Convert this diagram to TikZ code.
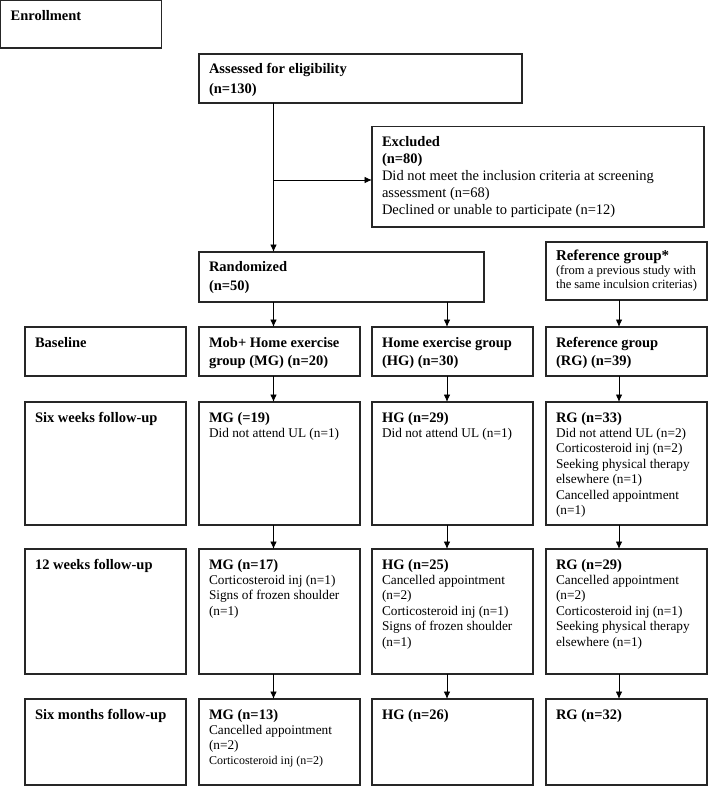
\documentclass[tikz,border=0pt]{standalone}
\usepackage{fontspec}
\setmainfont{Liberation Serif}
\usetikzlibrary{arrows.meta}
\newcommand{\txline}[3]{{\fontsize{#1}{#2}\selectfont #3\par}}
\newcommand{\cellbox}[3]{\parbox[t][#2][t]{#1}{\raggedright #3}}
\newcommand{\hdfirst}[2][20]{\txline{14.5}{14.5}{\bfseries\rule{0pt}{#1pt}#2}}
\newcommand{\bdline}[2]{\txline{14.5}{#1}{\bfseries #2}}
\newcommand{\rgline}[1]{\txline{13.3}{15.4}{#1}}
\tikzset{
  box/.style={draw=black!85, line width=1.2pt, anchor=north west, inner xsep=10pt, inner ysep=0pt, outer sep=0pt},
  arr/.style={draw=black, line width=0.9pt, -{Latex[length=7.5pt,width=6.5pt]}}
}
\begin{document}
\begin{tikzpicture}[x=1pt,y=-1pt]
\useasboundingbox (0,0) rectangle (708,786);
% top part
\node[box] (enroll) at (0.6,0.6) {\cellbox{141pt}{47.4pt}{\hdfirst{Enrollment}}};
\node[box] (assess) at (199,54) {\cellbox{303pt}{49pt}{\hdfirst[19.5]{Assessed for eligibility}\bdline{20.5}{(n=130)}}};
\node[box] (excl) at (372,126.5) {\cellbox{312pt}{100.5pt}{\hdfirst{Excluded}\bdline{16.8}{(n=80)}%
  \txline{14.5}{17.2}{Did not meet the inclusion criteria at screening}%
  \txline{14.5}{17.2}{assessment (n=68)}%
  \txline{14.5}{17.2}{Declined or unable to participate (n=12)}}};
\node[box] (rand) at (199,252) {\cellbox{265pt}{50pt}{\hdfirst[19.4]{Randomized}\bdline{19}{(n=50)}}};
\node[box] (refs) at (546,242) {\cellbox{141pt}{58pt}{\txline{15}{15}{\bfseries\rule{0pt}{18.5pt}Reference group*}%
  \txline{12.6}{14}{(from a previous study with}%
  \txline{12.6}{13.5}{the same inculsion criterias)}}};
% row labels
\node[box] (lab1) at (25,327) {\cellbox{141pt}{49pt}{\hdfirst{Baseline}}};
\node[box] (lab2) at (25,402) {\cellbox{141pt}{123pt}{\hdfirst{Six weeks follow-up}}};
\node[box] (lab3) at (25,549) {\cellbox{141pt}{125pt}{\hdfirst{12 weeks follow-up}}};
\node[box] (lab4) at (25,699) {\cellbox{141pt}{86pt}{\hdfirst{Six months follow-up}}};
% MG column
\node[box] (mg1) at (199,327) {\cellbox{141pt}{49pt}{\hdfirst{Mob+ Home exercise}\bdline{18.7}{group (MG) (n=20)}}};
\node[box] (mg2) at (199,402) {\cellbox{141pt}{123pt}{\hdfirst{MG (=19)}\rgline{Did not attend UL (n=1)}}};
\node[box] (mg3) at (199,549) {\cellbox{141pt}{125pt}{\hdfirst{MG (n=17)}\rgline{Corticosteroid inj (n=1)}\rgline{Signs of frozen shoulder}\rgline{(n=1)}}};
\node[box] (mg4) at (199,699) {\cellbox{141pt}{86pt}{\hdfirst{MG (n=13)}\rgline{Cancelled appointment}\rgline{(n=2)}\txline{12}{14.5}{Corticosteroid inj (n=2)}}};
% HG column
\node[box] (hg1) at (372,327) {\cellbox{141pt}{49pt}{\hdfirst{Home exercise group}\bdline{18.7}{(HG) (n=30)}}};
\node[box] (hg2) at (372,402) {\cellbox{141pt}{123pt}{\hdfirst{HG (n=29)}\rgline{Did not attend UL (n=1)}}};
\node[box] (hg3) at (372,549) {\cellbox{141pt}{125pt}{\hdfirst{HG (n=25)}\rgline{Cancelled appointment}\rgline{(n=2)}\rgline{Corticosteroid inj (n=1)}\rgline{Signs of frozen shoulder}\rgline{(n=1)}}};
\node[box] (hg4) at (372,699) {\cellbox{141pt}{86pt}{\hdfirst{HG (n=26)}}};
% RG column
\node[box] (rg1) at (546,327) {\cellbox{141pt}{49pt}{\hdfirst{Reference group}\bdline{18.7}{(RG) (n=39)}}};
\node[box] (rg2) at (546,402) {\cellbox{141pt}{123pt}{\hdfirst{RG (n=33)}\rgline{Did not attend UL (n=2)}\rgline{Corticosteroid inj (n=2)}\rgline{Seeking physical therapy}\rgline{elsewhere (n=1)}\rgline{Cancelled appointment}\rgline{(n=1)}}};
\node[box] (rg3) at (546,549) {\cellbox{141pt}{125pt}{\hdfirst{RG (n=29)}\rgline{Cancelled appointment}\rgline{(n=2)}\rgline{Corticosteroid inj (n=1)}\rgline{Seeking physical therapy}\rgline{elsewhere (n=1)}}};
\node[box] (rg4) at (546,699) {\cellbox{141pt}{86pt}{\hdfirst{RG (n=32)}}};
% arrow x positions
\coordinate (xA) at (273.5,0);
\coordinate (xB) at (447,0);
\coordinate (xC) at (619,0);
\coordinate (br) at (273.5,180);
% connectors
\draw[arr] (assess.south -| xA) -- (rand.north -| xA);
\draw[arr] (br) -- (br -| excl.west);
\draw[arr] (rand.south -| xA) -- (mg1.north -| xA);
\draw[arr] (rand.south -| xB) -- (hg1.north -| xB);
\draw[arr] (refs.south -| xC) -- (rg1.north -| xC);
\draw[arr] (mg1.south -| xA) -- (mg2.north -| xA);
\draw[arr] (mg2.south -| xA) -- (mg3.north -| xA);
\draw[arr] (mg3.south -| xA) -- (mg4.north -| xA);
\draw[arr] (hg1.south -| xB) -- (hg2.north -| xB);
\draw[arr] (hg2.south -| xB) -- (hg3.north -| xB);
\draw[arr] (hg3.south -| xB) -- (hg4.north -| xB);
\draw[arr] (rg1.south -| xC) -- (rg2.north -| xC);
\draw[arr] (rg2.south -| xC) -- (rg3.north -| xC);
\draw[arr] (rg3.south -| xC) -- (rg4.north -| xC);
\end{tikzpicture}
\end{document}
